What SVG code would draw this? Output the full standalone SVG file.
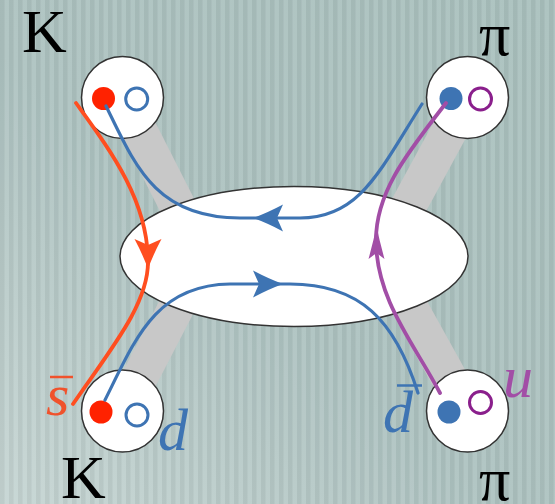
<svg xmlns="http://www.w3.org/2000/svg" width="555" height="504" viewBox="0 0 555 504">
<defs>
<linearGradient id="bg" x1="0" y1="1" x2="1" y2="0">
<stop offset="0" stop-color="#c6d5d3"/>
<stop offset="0.45" stop-color="#adc2c0"/>
<stop offset="1" stop-color="#a9c0bd"/>
</linearGradient>
<pattern id="stripes" x="0" y="0" width="9" height="504" patternUnits="userSpaceOnUse">
<rect x="0" y="0" width="4.5" height="504" fill="#000" fill-opacity="0.045"/>
<rect x="4.5" y="0" width="4.5" height="504" fill="#fff" fill-opacity="0.06"/>
</pattern>
<path id="ah" d="M0,0 Q-14,-5 -30,-13.5 L-24,0 L-30,13.5 Q-14,5 0,0 Z"/>
<path id="ahn" d="M0,0 Q-15,-3 -33,-8 L-27,0 L-33,8 Q-15,3 0,0 Z"/>
</defs>
<style>
.band{stroke:#c8c8c8;stroke-width:36;stroke-linecap:butt;fill:none}
.had{fill:#fff;stroke:#333;stroke-width:1.5}
.q{fill:none;stroke-linecap:round}
.red{stroke:#ff4e20}
.blue{stroke:#3e74b3}
.pur{stroke:#a24ea6}
.lab{font-family:"Liberation Serif","Times New Roman",serif;font-size:62px;fill:#000}
.it{font-family:"Liberation Serif","Times New Roman",serif;font-style:italic;font-size:60px}
</style>
<rect width="555" height="504" fill="url(#bg)"/>
<rect width="555" height="504" fill="url(#stripes)"/>

<g id="bands">
<line class="band" x1="122.5" y1="97.5" x2="205" y2="260"/>
<line class="band" x1="122.5" y1="411" x2="205" y2="252"/>
<line class="band" x1="467.5" y1="97.5" x2="378" y2="262"/>
<line class="band" x1="467.5" y1="411" x2="378" y2="250"/>
</g>

<g id="blob">
<ellipse class="had" cx="294" cy="256.5" rx="174" ry="70"/>
</g>

<g id="K-top">
<circle class="had" cx="122.5" cy="97.5" r="41"/>
<circle cx="103.5" cy="98.5" r="11.5" fill="#ff2200"/>
<circle cx="136.7" cy="99" r="11" fill="none" stroke="#3e74b3" stroke-width="3"/>
<text class="lab" x="22" y="52">K</text>
</g>
<g id="pi-top">
<circle class="had" cx="467.5" cy="97.5" r="41"/>
<circle cx="451" cy="98.5" r="11.5" fill="#3e74b3"/>
<circle cx="480.5" cy="99" r="11" fill="none" stroke="#8a1f8c" stroke-width="3"/>
<text class="lab" x="479" y="55">π</text>
</g>
<g id="K-bottom">
<circle class="had" cx="122.5" cy="411" r="41"/>
<circle cx="101" cy="412" r="11.5" fill="#ff2200"/>
<circle cx="137" cy="415" r="11" fill="none" stroke="#3e74b3" stroke-width="3"/>
<text class="lab" x="61" y="498">K</text>
</g>
<g id="pi-bottom">
<circle class="had" cx="467.5" cy="411" r="41"/>
<circle cx="449" cy="412" r="11.5" fill="#3e74b3"/>
<circle cx="480.5" cy="402.5" r="11" fill="none" stroke="#8a1f8c" stroke-width="3"/>
<text class="lab" x="479" y="500">π</text>
</g>

<g id="connectors">
<path class="q red" stroke-width="3.8" d="M76,103 C110,150 148,200 148,262 C148,305 110,350 73,404"/>
<path class="q blue" stroke-width="3.2" d="M106,106 C135,165 155,218 240,218 L300,218 C360,218 380,170 422,104"/>
<path class="q blue" stroke-width="3.2" d="M105,400 C135,340 155,285 230,284 L290,284 C360,284 395,320 418,393"/>
<path class="q pur" stroke-width="3.8" d="M446,103 C410,150 376,190 376,240 C376,300 415,345 440,393"/>
<use href="#ah" fill="#ff4e20" transform="translate(148,269) rotate(90)"/>
<use href="#ah" fill="#3e74b3" transform="translate(253,218) rotate(180)"/>
<use href="#ah" fill="#3e74b3" transform="translate(283,284)"/>
<use href="#ahn" fill="#a24ea6" transform="translate(376.5,226) rotate(-90)"/>
</g>

<g id="labels">
<text class="it" x="46" y="415" fill="#f0522c" font-size="56">s</text>
<line x1="50" y1="377" x2="73" y2="377" stroke="#f0522c" stroke-width="2.5"/>
<text class="it" x="158" y="450" fill="#3e74b3">d</text>
<text class="it" x="383" y="432" fill="#3e74b3">d</text>
<line x1="397" y1="385.5" x2="422" y2="385.5" stroke="#3e74b3" stroke-width="2.5"/>
<text class="it" x="503" y="397" fill="#a24ea6">u</text>
</g>
</svg>
